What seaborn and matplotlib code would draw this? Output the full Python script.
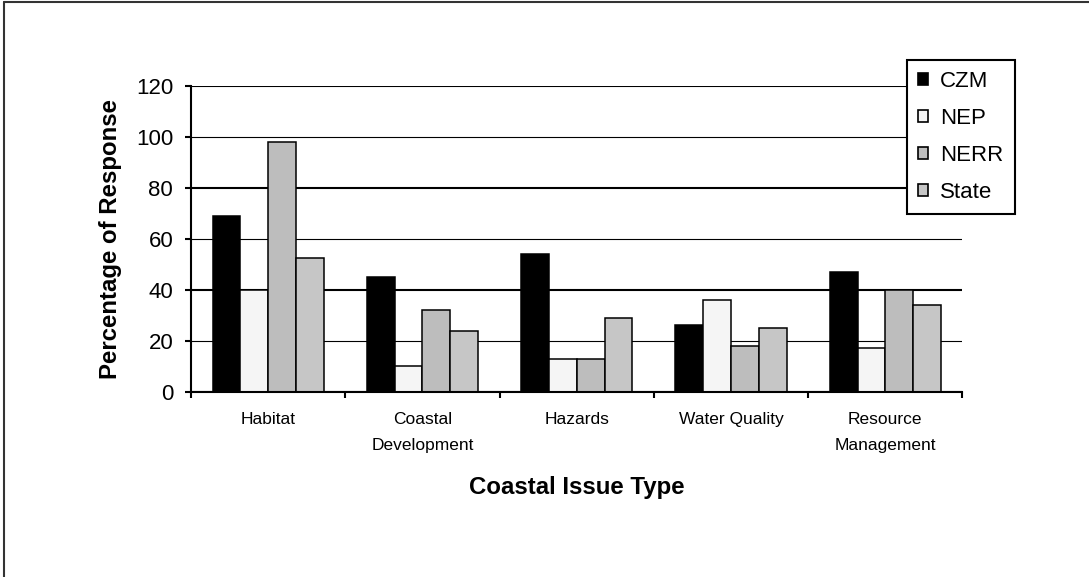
import matplotlib
matplotlib.use("Agg")
import matplotlib.pyplot as plt
from matplotlib.lines import Line2D
import numpy as np
import pandas as pd
import seaborn as sns

# Survey response by coastal issue type and program
categories = ["Habitat", "Coastal\nDevelopment", "Hazards", "Water Quality", "Resource\nManagement"]
programs = ["CZM", "NEP", "NERR", "State"]
czm = [69, 45, 54, 26, 47]
nep = [40, 10, 13, 36, 17]
nerr = [98, 32, 13, 18, 40]
state = [52.5, 24, 29, 25, 34]
y_ticks = [0, 20, 40, 60, 80, 100, 120]

colors = ["#000000", "#F5F5F5", "#BDBDBD", "#C6C6C6"]

df = pd.DataFrame({
    "issue": categories * 4,
    "program": [p for p in programs for _ in categories],
    "value": czm + nep + nerr + state,
})

sns.set_theme(style="white")
plt.rcParams["font.family"] = ["Liberation Sans", "DejaVu Sans"]
plt.rcParams.update({
    "text.color": "black",
    "axes.labelcolor": "black",
    "xtick.color": "black",
    "ytick.color": "black",
})

fig = plt.figure(figsize=(10.89, 5.77), dpi=100)
ax = fig.add_axes([0.1754, 0.3211, 0.7084, 0.5304])

sns.barplot(data=df, x="issue", y="value", hue="program", order=categories,
            hue_order=programs, palette=colors, width=0.72, gap=0,
            edgecolor="black", linewidth=1.1, errorbar=None, ax=ax,
            legend=False)

ax.set_ylim(0, 120)
ax.set_xlim(-0.5, len(categories) - 0.5)
ax.set_yticks(y_ticks)
ax.set_yticklabels([str(t) for t in y_ticks])

# Horizontal grid behind the bars
ax.set_axisbelow(True)
ax.yaxis.grid(True, color="black")
for i, gl in enumerate(ax.get_ygridlines()):
    gl.set_linewidth(1.5 if i % 2 == 0 else 0.8)

for side in ["top", "right"]:
    ax.spines[side].set_visible(False)
for side in ["left", "bottom"]:
    ax.spines[side].set_color("black")
    ax.spines[side].set_linewidth(1.5)

ax.tick_params(axis="y", which="major", direction="out", length=4.3, width=1.5,
               color="black", labelcolor="black", pad=8.5, labelsize=16, left=True)
# Category names at group centres, tick marks at group boundaries
ax.set_xticks(range(len(categories)))
ax.set_xticklabels(categories, fontsize=12.5, linespacing=1.9, color="black")
ax.tick_params(axis="x", which="major", length=0, pad=14.5)
ax.set_xticks(np.arange(-0.5, len(categories), 1.0), minor=True)
ax.tick_params(axis="x", which="minor", direction="out", length=4, width=1.5,
               color="black", bottom=True)

ax.set_xlabel("Coastal Issue Type", fontsize=17.3, fontweight="bold", color="black")
ax.set_ylabel("Percentage of Response", fontsize=17.3, fontweight="bold", color="black")
ax.xaxis.set_label_coords(0.5, -0.275)
ax.yaxis.set_label_coords(-0.09, 0.5)

handles = [plt.Rectangle((0, 0), 1, 1, facecolor=c, edgecolor="black", linewidth=1.2)
           for c in colors]
leg = fig.legend(handles, programs, loc="upper left",
                 bbox_to_anchor=(907 / 1089, 1 - 60 / 577),
                 fontsize=16, frameon=True, fancybox=False, shadow=False,
                 handlelength=0.45, handleheight=0.45, handletextpad=0.55,
                 labelspacing=0.72, borderpad=0.5, borderaxespad=0)
leg.get_frame().set_edgecolor("black")
leg.get_frame().set_linewidth(1.5)
leg.get_frame().set_facecolor("white")
leg.get_frame().set_alpha(1)
for t in leg.get_texts():
    t.set_color("black")

# Frame along the top and left edges of the figure
fig.add_artist(Line2D([4 / 1089, 4 / 1089], [0, 1 - 2 / 577], transform=fig.transFigure,
                      color="#333333", linewidth=1.5))
fig.add_artist(Line2D([4 / 1089, 1], [1 - 2 / 577, 1 - 2 / 577], transform=fig.transFigure,
                      color="#333333", linewidth=1.5))

fig.savefig("out.png", dpi=100, facecolor="white")
